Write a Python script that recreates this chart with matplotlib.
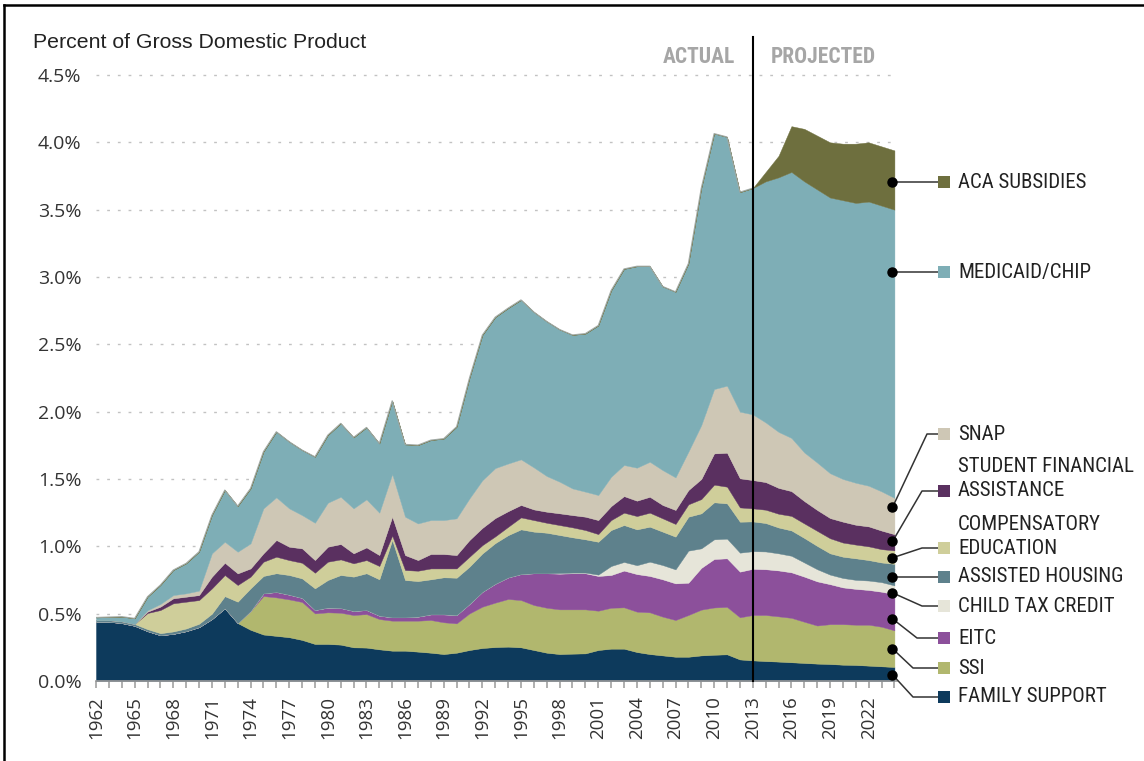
import matplotlib
matplotlib.use("Agg")
import matplotlib.pyplot as plt
from matplotlib import font_manager as fm
from matplotlib.lines import Line2D
from matplotlib.patches import Rectangle
import numpy as np

# ---------------- data (percent of GDP) ----------------
years = list(range(1962, 2025))

family_support = [
    0.44, 0.44, 0.43, 0.41, 0.37, 0.34, 0.35, 0.37, 0.40, 0.46,
    0.54, 0.43, 0.38, 0.345, 0.335, 0.325, 0.305, 0.275, 0.275, 0.27,
    0.25, 0.248, 0.235, 0.225, 0.225, 0.218, 0.21, 0.20, 0.21, 0.23,
    0.245, 0.252, 0.255, 0.25, 0.23, 0.21, 0.20, 0.203, 0.205, 0.23,
    0.24, 0.24, 0.215, 0.20, 0.19, 0.18, 0.18, 0.19, 0.195, 0.198,
    0.16, 0.153, 0.148, 0.144, 0.139, 0.134, 0.129, 0.126, 0.121, 0.119,
    0.114, 0.109, 0.104]

ssi = [0.0] * 12 + [
    0.14, 0.286, 0.286, 0.281, 0.282, 0.227, 0.235, 0.237, 0.24, 0.249,
    0.225, 0.223, 0.223, 0.23, 0.243, 0.236, 0.218, 0.272, 0.307, 0.33,
    0.354, 0.351, 0.334, 0.334, 0.332, 0.329, 0.327, 0.292, 0.304, 0.307,
    0.30, 0.31, 0.288, 0.273, 0.31, 0.34, 0.351, 0.352, 0.313, 0.337,
    0.342, 0.336, 0.33, 0.306, 0.283, 0.296, 0.301, 0.299, 0.304, 0.294,
    0.272]

eitc = [0.0] * 13 + [
    0.02, 0.04, 0.035, 0.03, 0.025, 0.035, 0.035, 0.03, 0.03, 0.025,
    0.025, 0.025, 0.03, 0.042, 0.059, 0.062, 0.07, 0.11, 0.14, 0.16,
    0.193, 0.236, 0.256, 0.265, 0.268, 0.268, 0.258, 0.243, 0.273, 0.279,
    0.27, 0.277, 0.272, 0.24, 0.31, 0.36, 0.361, 0.339, 0.343, 0.34,
    0.341, 0.338, 0.335, 0.328, 0.297, 0.273, 0.266, 0.258, 0.26, 0.269]

child_tax_credit = [0.0] * 36 + [
    0.005, 0.005, 0.005, 0.01, 0.067, 0.064, 0.066, 0.106, 0.106, 0.104,
    0.238, 0.145, 0.146, 0.146, 0.141, 0.131, 0.132, 0.127, 0.123, 0.105,
    0.09, 0.071, 0.07, 0.067, 0.07, 0.071, 0.065]

assisted_housing = [
    0.012, 0.012, 0.013, 0.013, 0.015, 0.015, 0.018, 0.02, 0.025, 0.04,
    0.09, 0.159, 0.168, 0.129, 0.139, 0.146, 0.145, 0.161, 0.205, 0.245,
    0.255, 0.273, 0.27, 0.574, 0.277, 0.264, 0.26, 0.275, 0.277, 0.277,
    0.285, 0.302, 0.314, 0.332, 0.309, 0.301, 0.282, 0.262, 0.247, 0.244,
    0.267, 0.274, 0.266, 0.26, 0.248, 0.243, 0.252, 0.26, 0.275, 0.262,
    0.23, 0.221, 0.211, 0.192, 0.188, 0.182, 0.173, 0.158, 0.158, 0.16,
    0.152, 0.146, 0.16]

compensatory_education = [
    0.0, 0.0, 0.0, 0.0, 0.12, 0.172, 0.209, 0.199, 0.176, 0.188,
    0.157, 0.124, 0.087, 0.106, 0.123, 0.111, 0.116, 0.116, 0.136, 0.116,
    0.099, 0.098, 0.099, 0.033, 0.074, 0.077, 0.081, 0.066, 0.069, 0.074,
    0.062, 0.05, 0.062, 0.089, 0.086, 0.074, 0.074, 0.074, 0.069, 0.057,
    0.074, 0.092, 0.099, 0.104, 0.099, 0.094, 0.092, 0.106, 0.131, 0.124,
    0.106, 0.097, 0.099, 0.102, 0.108, 0.108, 0.112, 0.112, 0.105, 0.102,
    0.102, 0.099, 0.10]

student_aid = [
    0.0, 0.0, 0.0, 0.0, 0.01, 0.025, 0.037, 0.037, 0.037, 0.087,
    0.091, 0.086, 0.061, 0.062, 0.124, 0.099, 0.107, 0.094, 0.111, 0.114,
    0.074, 0.094, 0.081, 0.14, 0.111, 0.079, 0.107, 0.107, 0.099, 0.124,
    0.128, 0.136, 0.116, 0.092, 0.079, 0.082, 0.087, 0.091, 0.099, 0.104,
    0.104, 0.123, 0.114, 0.118, 0.099, 0.104, 0.106, 0.149, 0.232, 0.252,
    0.216, 0.21, 0.205, 0.192, 0.184, 0.166, 0.155, 0.15, 0.155, 0.147,
    0.148, 0.138, 0.12]

snap = [
    0.0, 0.0, 0.0, 0.0, 0.01, 0.02, 0.024, 0.025, 0.033, 0.173,
    0.156, 0.161, 0.186, 0.334, 0.317, 0.285, 0.247, 0.277, 0.327, 0.351,
    0.334, 0.357, 0.315, 0.317, 0.285, 0.272, 0.252, 0.252, 0.273, 0.309,
    0.354, 0.371, 0.354, 0.339, 0.312, 0.265, 0.235, 0.198, 0.186, 0.186,
    0.218, 0.231, 0.245, 0.26, 0.259, 0.242, 0.285, 0.40, 0.478, 0.498,
    0.495, 0.488, 0.443, 0.416, 0.395, 0.361, 0.352, 0.333, 0.317, 0.312,
    0.302, 0.291, 0.27]

medicaid_chip = [
    0.02, 0.023, 0.035, 0.042, 0.101, 0.141, 0.186, 0.223, 0.289, 0.284,
    0.384, 0.339, 0.408, 0.421, 0.487, 0.495, 0.483, 0.49, 0.502, 0.545,
    0.527, 0.534, 0.514, 0.544, 0.537, 0.582, 0.594, 0.605, 0.68, 0.894,
    1.078, 1.121, 1.154, 1.184, 1.154, 1.148, 1.13, 1.14, 1.174, 1.259,
    1.383, 1.456, 1.496, 1.452, 1.364, 1.378, 1.397, 1.76, 1.897, 1.847,
    1.63, 1.68, 1.79, 1.89, 1.975, 2.013, 2.028, 2.047, 2.07, 2.078,
    2.11, 2.122, 2.14]

aca_subsidies = [0.0] * 52 + [
    0.07, 0.16, 0.34, 0.39, 0.40, 0.41, 0.42, 0.44, 0.44, 0.44, 0.44]

series_names = ["FAMILY SUPPORT", "SSI", "EITC", "CHILD TAX CREDIT",
                "ASSISTED HOUSING", "COMPENSATORY EDUCATION",
                "STUDENT FINANCIAL ASSISTANCE", "SNAP", "MEDICAID/CHIP",
                "ACA SUBSIDIES"]
series = [family_support, ssi, eitc, child_tax_credit, assisted_housing,
          compensatory_education, student_aid, snap, medicaid_chip,
          aca_subsidies]
colors = ["#0d3a5c", "#b1b76e", "#8c509b", "#e6e5d9", "#5e818c",
          "#cfce9a", "#5a3060", "#cec7b5", "#7eaeb6", "#6e6f3e"]

y_ticks = [0.0, 0.5, 1.0, 1.5, 2.0, 2.5, 3.0, 3.5, 4.0, 4.5]
x_label_years = list(range(1962, 2023, 3))
split_year = 2013

# ---------------- fonts ----------------
names = {f.name for f in fm.fontManager.ttflist}


def pick(*cands):
    for c in cands:
        if c in names:
            return c
    return "DejaVu Sans"


REG = pick("Open Sans", "Lato", "Noto Sans", "DejaVu Sans")
ARIAL = pick("Liberation Sans", "Open Sans", "DejaVu Sans")
NAR = pick("Liberation Sans Narrow", "Roboto Condensed", "Open Sans Condensed")
narrow_ok = NAR in ("Liberation Sans Narrow", "Roboto Condensed", "Open Sans Condensed")
if not narrow_ok:
    NAR = ARIAL

# ---------------- figure ----------------
W, H = 1144, 761
fig = plt.figure(figsize=(W / 100, H / 100), dpi=100)
fig.patch.set_facecolor("white")


def fx(px):
    return px / W


def fy(py):
    return 1 - py / H


ax = fig.add_axes([fx(96), fy(681), (897 - 96) / W, (681 - 75) / H])
ax.set_xlim(1962, 2024.2)
ax.set_ylim(0, 4.5)

# grid lines
for v in y_ticks[1:]:
    ax.axhline(v, color="#c2c2c2", lw=1.0, ls=(0, (2, 5.7)), zorder=0,
               clip_on=False)

# stacked areas
x = np.array(years, dtype=float)
base = np.zeros(len(years))
for vals, col in zip(series, colors):
    top = base + np.array(vals)
    ax.fill_between(x, base, top, facecolor=col, edgecolor=col, lw=0.3,
                    zorder=2)
    base = top
total = base
medicaid_top = total - np.array(aca_subsidies)
ax.plot(x[x <= split_year], medicaid_top[x <= split_year], color="#9fa8a4",
        lw=0.8, zorder=3)

# split line
ax.plot([split_year, split_year], [0, 4.78], color="black", lw=1.5,
        zorder=6, clip_on=False)

# axes styling
for s in ("left", "top", "right"):
    ax.spines[s].set_visible(False)
ax.spines["bottom"].set_color("#9a9a9a")
ax.spines["bottom"].set_linewidth(1.2)
ax.spines["bottom"].set_zorder(4)

ax.set_yticks(y_ticks)
ax.set_yticklabels([f"{v:.1f}%" for v in y_ticks], family=REG, fontsize=14,
                   color="#333333")
ax.tick_params(axis="y", length=0, pad=10.5)

ax.set_xticks(x_label_years)
ax.set_xticklabels([str(y) for y in x_label_years], rotation=90,
                   family=REG, fontsize=13.5, color="#333333")
ax.set_xticks(years, minor=True)
ax.tick_params(axis="x", which="both", length=5, width=1.1,
               color="#9a9a9a", pad=6)

# header texts
fig.text(fx(33), fy(42), "Percent of Gross Domestic Product", family=ARIAL,
         fontsize=15.3, color="#222222", ha="left", va="center")
fig.text(fx(735), fy(57), "ACTUAL", family=NAR, fontweight="bold",
         fontsize=15.5 if narrow_ok else 13, color="#a6a6a6",
         ha="right", va="center")
fig.text(fx(771), fy(57), "PROJECTED", family=NAR, fontweight="bold",
         fontsize=15.5 if narrow_ok else 13, color="#a6a6a6",
         ha="left", va="center")

# ---------------- labels with leader lines ----------------
to_fig = ax.transData + fig.transFigure.inverted()
cum = np.cumsum(np.array(series), axis=0)
last = len(years) - 1
dot_x = 2023.85
leg_fs = 15 if narrow_ok else 12

# (series index, label lines, label y px, elbow x px or None,
#  dot position as fraction of band height)
label_specs = [
    (9, ["ACA SUBSIDIES"], 182, None, None),
    (8, ["MEDICAID/CHIP"], 272, None, None),
    (7, ["SNAP"], 434, 927, 0.74),
    (6, ["STUDENT FINANCIAL", "ASSISTANCE"], 491, 922, 0.55),
    (5, ["COMPENSATORY", "EDUCATION"], 548, 922, 0.45),
    (4, ["ASSISTED HOUSING"], 577, None, None),
    (3, ["CHILD TAX CREDIT"], 606, 922, 0.15),
    (2, ["EITC"], 638, 917, 0.32),
    (1, ["SSI"], 668, 913, 0.5),
    (0, ["FAMILY SUPPORT"], 697, 913, 0.45),
]

sq_left = 938
sq_size = 12
for idx, lines, ly, ex, frac in label_specs:
    if frac is None:
        dxf, _ = to_fig.transform((dot_x, 0))
        dyf = fy(ly)
    else:
        lo = cum[idx - 1][last] if idx > 0 else 0.0
        hi = cum[idx][last]
        dxf, dyf = to_fig.transform((dot_x, lo + frac * (hi - lo)))
    pts_x = [dxf]
    pts_y = [dyf]
    if ex is not None:
        pts_x.append(fx(ex))
        pts_y.append(fy(ly))
    pts_x.append(fx(sq_left))
    pts_y.append(fy(ly))
    fig.add_artist(Line2D(pts_x, pts_y, transform=fig.transFigure,
                          color="#333333", lw=1.1, zorder=7))
    fig.add_artist(Line2D([dxf], [dyf], transform=fig.transFigure,
                          marker="o", markersize=6.5, color="black",
                          zorder=8))
    fig.add_artist(Rectangle((fx(sq_left), fy(ly + sq_size / 2)),
                             sq_size / W, sq_size / H,
                             transform=fig.transFigure,
                             facecolor=colors[idx], edgecolor="none",
                             zorder=8))
    for k, txt in enumerate(reversed(lines)):
        fig.text(fx(958), fy(ly - 24 * k), txt, family=NAR, fontsize=leg_fs,
                 color="#222222", ha="left", va="center")

# frame (cropped box)
fig.add_artist(Line2D([fx(4), 1.0], [fy(5), fy(5)], transform=fig.transFigure,
                      color="black", lw=1.8))
fig.add_artist(Line2D([fx(4), fx(4)], [fy(5), 0.0], transform=fig.transFigure,
                      color="black", lw=1.8))

fig.savefig("out.png", dpi=100, facecolor="white")
